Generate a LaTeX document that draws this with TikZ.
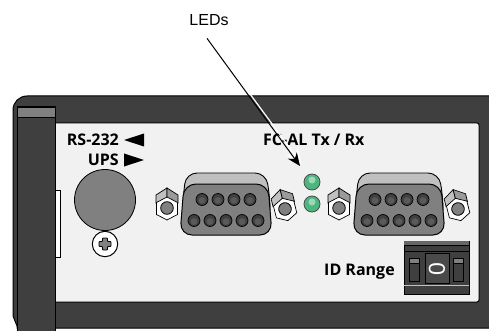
\documentclass[tikz,border=0pt]{standalone}
\usepackage{fontspec}
\setmainfont{Liberation Sans}
\newfontfamily\labelfont[BoldFont=* Bold]{Open Sans}
\usetikzlibrary{positioning, arrows.meta}
\definecolor{chassis}{HTML}{3F3F3F}
\definecolor{window}{HTML}{4A4A4A}
\definecolor{panelgray}{HTML}{F1F1F1}
\definecolor{midgray}{HTML}{808080}
\definecolor{lightgray}{HTML}{C0C0C0}
\definecolor{ledgreen}{HTML}{4DB67F}
\tikzset{
  housing/.style={draw=black, line width=1pt, fill=chassis},
  panel/.style={draw=black, line width=1pt, fill=panelgray, rounded corners=2pt},
  tag/.style={font=\labelfont\bfseries\fontsize{16}{18}\selectfont, inner sep=0pt, text=black},
  callout/.style={font=\fontsize{16}{18}\selectfont, inner sep=0pt},
  arrow/.style={line width=1pt, -{Stealth[length=13pt, width=11pt]}},
  halo/.style={line width=1.2pt, white, -{Stealth[length=16pt, width=14pt]}},
  marker/.style={fill=black},
  ledlamp/.style={circle, draw=black!70, line width=0.8pt, fill=ledgreen, minimum size=16pt, inner sep=0pt},
  pinhole/.style={circle, draw=black, line width=0.7pt, fill=black!75, minimum size=12pt, inner sep=0pt},
  switchslot/.style={draw=black, line width=0.7pt, fill=chassis},
  pics/nut/.style={code={
    \draw[line width=0.7pt, fill=lightgray] (-11,-5) -- (-11,-13) -- (0,-20) -- (0,-10) -- cycle;
    \draw[line width=0.7pt, fill=lightgray!80!black] (11,-5) -- (11,-13) -- (0,-20) -- (0,-10) -- cycle;
    \draw[line width=0.7pt, fill=white] (0,-11) -- (10.5,-5.5) -- (10.5,6.5) -- (0,12) -- (-10.5,6.5) -- (-10.5,-5.5) -- cycle;
    \draw[line width=0.8pt, fill=midgray] (0,0) circle (6.3);
  }},
  pics/dsub/.style={code={
    % rear shell
    \draw[line width=0.9pt, fill=lightgray, rounded corners=11pt] (-43,-5) -- (-40,-31) -- (40,-31) -- (44,-5) -- (44,10) -- (-43,10) -- cycle;
    % front shell
    \draw[line width=1pt, fill=midgray, rounded corners=12pt] (-42,-20) -- (42,-20) -- (46,31) -- (-46,31) -- cycle;
    \foreach \px in {-24,-8,8,24} {
      \node[pinhole] at (\px,-4.5) {};
      \fill[midgray!70!black] (\px,-3.5) circle (3.4);
    }
    \foreach \px in {-32,-16,0,16,32} {
      \node[pinhole] at (\px,16.5) {};
      \fill[midgray!70!black] (\px,17.5) circle (3.4);
    }
  }}
}
\begin{document}
\begin{tikzpicture}[x=1pt, y=-1pt]
\useasboundingbox (0,0) rectangle (489,331);

% Chassis and front panel
\draw[housing] (489,96) -- (27,96) to[out=180, in=90] (13,110) -- (13,316) -- (17,326) -- (17,328) -- (489,328);
\draw[panel] (40,123) rectangle (479,302);
\draw[line width=0.7pt, fill=white] (50,190) rectangle (60,257);

% Left hand tab
\draw[housing] (17,107) rectangle (55,331);
\draw[line width=0.7pt, fill=midgray] (17,107) rectangle (55,117);

% Round port and screw
\draw[line width=0.8pt, fill=midgray] (105,200) circle (30.5);
\draw[line width=1pt, fill=white] (105,244) circle (12.7);
\draw[line width=0.8pt, fill=midgray, rounded corners=0.8pt] (102.5,238) -- (107.5,238) -- (107.5,241.5) -- (111,241.5) -- (111,246.5) -- (107.5,246.5) -- (107.5,250) -- (102.5,250) -- (102.5,246.5) -- (99,246.5) -- (99,241.5) -- (102.5,241.5) -- cycle;

% Connectors with their nuts
\pic at (226,204) {dsub};
\pic at (399,204) {dsub};
\pic at (167,208) {nut};
\pic at (339,208) {nut};
\pic[rotate=14] at (285,209) {nut};
\pic[rotate=14] at (458,209) {nut};

% LEDs
\node[ledlamp] (led1) at (312,182) {};
\node[ledlamp] (led2) at (312,204) {};
\fill[ledgreen!55!white] (312,180) circle (3.5);
\fill[ledgreen!55!white] (312,202) circle (3.5);

% ID switch
\fill[chassis] (404,241) rectangle (469,294);
\draw[line width=0.7pt] (404,241) rectangle (469,294);
\fill[midgray!80!black] (404,241) rectangle (469,245);
\draw[line width=0.8pt] (404,245) -- (469,245);
\draw[line width=0.8pt] (404,251) -- (469,251);
\draw[line width=0.6pt, lightgray] (404,285) -- (469,285);
\draw[line width=0.8pt, fill=window] (425,253) rectangle (449,283);
\draw[switchslot] (409,258) rectangle (419,281);
\draw[switchslot] (453,258) rectangle (463,281);
\draw[line width=0.5pt, fill=midgray] (409,258) rectangle (419,263);
\draw[line width=0.5pt, fill=midgray] (453,258) rectangle (463,263);
\node[rotate=90, text=white, font=\fontsize{23}{23}\selectfont, inner sep=0pt] (idzero) at (437,269) {0};

% Labels
\node[tag, anchor=base east] (rslabel) at (119,146) {RS-232};
\node[tag, anchor=base east] (upslabel) at (119,165) {UPS};
\node[tag, anchor=base west] (fclabel) at (263,146) {FC-AL Tx / Rx};
\node[tag, anchor=base west] (idlabel) at (324,275) {ID Range};
\fill[marker] (124,140) -- (144,133.5) -- (144,146.5) -- cycle;
\fill[marker] (124,153.5) -- (144,160) -- (124,166.5) -- cycle;

% Callout
\node[callout, anchor=base] (leds) at (209,26) {LEDs};
\coordinate (ledtip) at (300,166);
\draw[halo] ([xshift=-58.8pt, yshift=84pt]ledtip) -- ([xshift=1.6pt, yshift=2pt]ledtip);
\draw[arrow] ([xshift=-2pt, yshift=-12pt]leds.south) -- (ledtip);

\end{tikzpicture}
\end{document}
